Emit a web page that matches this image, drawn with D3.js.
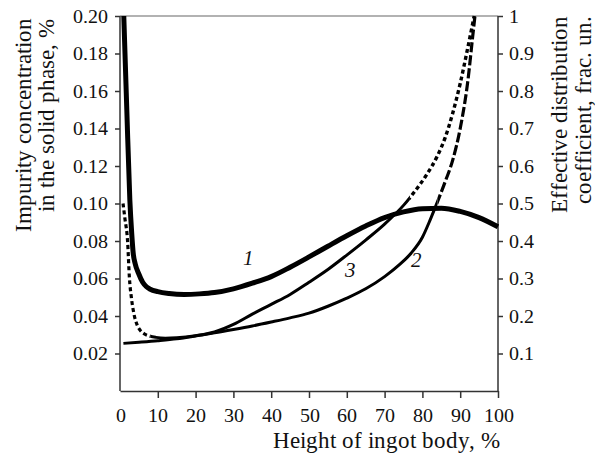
<!DOCTYPE html>
<html><head><meta charset="utf-8">
<script src="https://cdn.jsdelivr.net/npm/d3@7"></script>
<style>
@font-face{font-family:"RefSerif";src:local("Liberation Serif"),local("LiberationSerif"),local("Liberation Serif Regular"),local("LiberationSerif-Regular");font-style:normal;}
@font-face{font-family:"RefSerif";src:local("Liberation Serif Italic"),local("LiberationSerif-Italic");font-style:italic;}
svg text{font-family:"RefSerif","Liberation Serif","Times New Roman",Tinos !important;}
</style>
</head>
<body style="margin:0">
<svg id="chart" width="595" height="458"></svg>
<script>
// ---- data ----
const xTicks = [0,10,20,30,40,50,60,70,80,90,100];
const leftTicks = [0.02,0.04,0.06,0.08,0.10,0.12,0.14,0.16,0.18,0.20];
const rightTicks = [0.1,0.2,0.3,0.4,0.5,0.6,0.7,0.8,0.9,1];
const xTitle = "Height of ingot body, %";
const leftTitle = ["Impurity concentration","in the solid phase, %"];
const rightTitle = ["Effective distribution","coefficient, frac. un."];

// curve 1: impurity concentration in the solid phase, % (left axis)
const curve1X = [1.0,1.8,2.6,3.1,3.5,4.0,4.9,6,7,8,10,13,17,21,25,30,35,40,45,50,55,60,65,70,75,80,85,90,95,100];
const curve1Y = [0.200,0.150,0.102,0.084,0.0734,0.068,0.0628,0.058,0.0556,0.0543,0.053,0.052,0.0515,0.0518,0.0525,0.0545,0.0575,0.061,0.066,0.0715,0.0772,0.0828,0.0880,0.0925,0.0955,0.0972,0.0975,0.0958,0.0925,0.0876];

// curve 2: effective distribution coefficient (right axis)
const curve2X = [0.9,5,10,15,21,25,30,35,40,45,50,55,60,65,70,74,77,80,82,84,86,88,90,92,93.3,93.9];
const curve2K = [0.127,0.130,0.134,0.139,0.1485,0.155,0.164,0.1735,0.184,0.195,0.2075,0.226,0.2475,0.2725,0.305,0.3375,0.3675,0.41,0.455,0.505,0.5575,0.615,0.70,0.825,0.945,1.0];

// curve 3: effective distribution coefficient (right axis)
const curve3X = [0.8,1.3,2.0,2.5,3.0,3.7,4.5,5.3,6.5,8,9.5,12,15,20,25,30,35,40,45,50,55,60,65,70,75,78,81,84,86,88,90,92,93.7];
const curve3K = [0.50,0.46,0.40,0.30,0.25,0.205,0.177,0.1625,0.152,0.146,0.143,0.141,0.142,0.1475,0.1575,0.1775,0.205,0.231,0.2575,0.29,0.324,0.3625,0.4025,0.445,0.495,0.5325,0.575,0.6275,0.675,0.74,0.82,0.915,1.0];

const curveLabels = [{t:"1",x:34,v:0.067},{t:"2",x:78.5,v:0.066},{t:"3",x:61,v:0.0608}];

// ---- layout ----
const FONT = '"RefSerif", "Liberation Serif", "Times New Roman", Tinos';
const svg = d3.select("#chart");
const x = d3.scaleLinear().domain([0,100]).range([120,498]);
const yL = d3.scaleLinear().domain([0,0.2]).range([391,16]);
const yR = d3.scaleLinear().domain([0,1]).range([391,16]);
const axisColor = "#333";

svg.append("line").attr("x1",x(0)).attr("x2",x(100)).attr("y1",yL(0.2)).attr("y2",yL(0.2))
  .attr("stroke","#666").attr("stroke-width",1.2);

const tickFont = "20px";
const gL = svg.append("g").attr("transform",`translate(${x(0)},0)`)
  .call(d3.axisLeft(yL).tickValues(leftTicks).tickFormat(d3.format(".2f")).tickSize(5).tickSizeOuter(0).tickPadding(7));
const gR = svg.append("g").attr("transform",`translate(${x(100)},0)`)
  .call(d3.axisRight(yR).tickValues(rightTicks).tickFormat(d=>d===1?"1":d3.format(".1f")(d)).tickSize(5).tickSizeOuter(0).tickPadding(6));
const gB = svg.append("g").attr("transform",`translate(0,${yL(0)})`)
  .call(d3.axisBottom(x).tickValues(xTicks).tickSize(7).tickSizeOuter(0).tickPadding(10));
gB.selectAll(".tick").filter(d=>d===0).select("line").remove();

[gL,gR,gB].forEach(g=>{
  g.attr("font-family",null).attr("font-size",null);
  g.select(".domain").attr("stroke",axisColor).attr("stroke-width",1.5);
  g.selectAll(".tick line").attr("stroke",axisColor).attr("stroke-width",1.5);
  g.selectAll(".tick text").attr("fill","#111")
    .style("font-family",FONT,"important").style("font-size",tickFont);
});
gL.select(".domain").attr("d",`M0,${yL(0)}V${yL(0.2)}`);
gR.select(".domain").attr("d",`M0,${yR(0)}V${yR(1)}`);

function title(tr,txt,anchor){
  return svg.append("text").attr("transform",tr).attr("text-anchor",anchor)
    .style("font-family",FONT,"important").style("font-size","23px").attr("fill","#111").text(txt);
}
title("translate(500,448)",xTitle,"end");
title("translate(31,125) rotate(-90)",leftTitle[0],"middle");
title("translate(54,115) rotate(-90)",leftTitle[1],"middle");
title("translate(567,114) rotate(-90)",rightTitle[0],"middle");
title("translate(591,110) rotate(-90)",rightTitle[1],"middle");

const defs = svg.append("defs");
function clip(id,x0,x1){
  defs.append("clipPath").attr("id",id).append("rect")
    .attr("x",x(x0)).attr("width",x(x1)-x(x0)).attr("y",0).attr("height",458);
}
clip("c3a",-5,8); clip("c3b",8,76.7); clip("c3c",76.7,105);
clip("c2a",-5,84); clip("c2b",84,105);

const lineL = d3.line().x(d=>x(d[0])).y(d=>yL(d[1])).curve(d3.curveMonotoneX);
const lineR = d3.line().x(d=>x(d[0])).y(d=>yR(d[1])).curve(d3.curveMonotoneX);

const c1 = curve1X.map((v,i)=>[v,curve1Y[i]]);
const c2 = curve2X.map((v,i)=>[v,curve2K[i]]);
const c3 = curve3X.map((v,i)=>[v,curve3K[i]]);

function path(data,gen,w,dash,clipId){
  const p = svg.append("path").datum(data).attr("d",gen).attr("fill","none")
    .attr("stroke","#000").attr("stroke-width",w).attr("stroke-linejoin","round");
  if(dash) p.attr("stroke-dasharray",dash);
  if(clipId) p.attr("clip-path",`url(#${clipId})`);
}
path(c2,lineR,3,null,"c2a");
path(c2,lineR,3.2,"10,3","c2b");
path(c3,lineR,3.2,"4,3","c3a");
path(c3,lineR,3,null,"c3b");
path(c3,lineR,3.4,"4,3","c3c");
path(c1,lineL,5,null,null);

svg.selectAll(".clab").data(curveLabels).enter().append("text")
  .attr("x",d=>x(d.x)).attr("y",d=>yL(d.v)).attr("text-anchor","middle")
  .style("font-family",FONT,"important").style("font-size","21px").style("font-style","italic")
  .attr("fill","#111").text(d=>d.t);
</script>
</body></html>
